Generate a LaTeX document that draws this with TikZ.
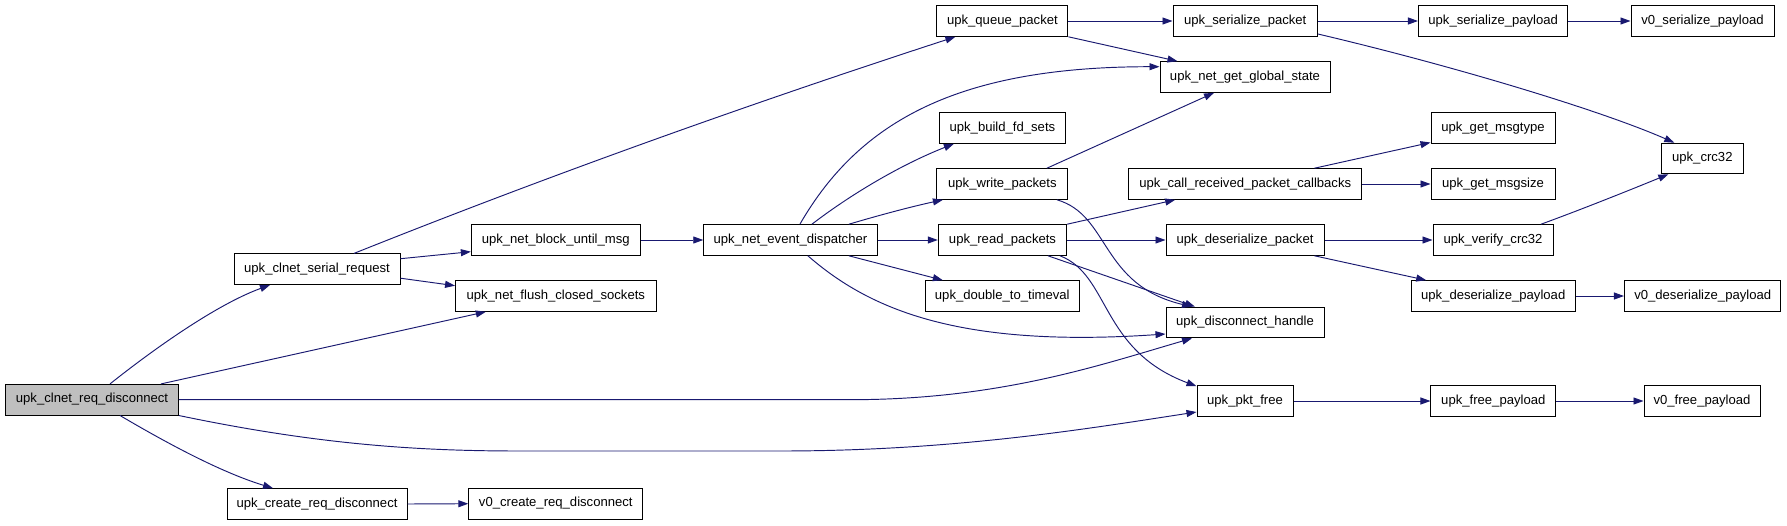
\documentclass[tikz,border=0pt]{standalone}
\usepackage{fontspec}
\setmainfont{Liberation Sans}
\usetikzlibrary{arrows.meta,calc}
\definecolor{edgeblue}{HTML}{191970}
\definecolor{rootgray}{HTML}{BFBFBF}
\tikzset{
  fn/.style={draw=black, line width=1pt, fill=white, minimum height=30.6pt,
    inner sep=0pt, font=\fontsize{13.1}{15}\selectfont, text height=9.4pt, text depth=2.9pt},
  ce/.style={draw=edgeblue, line width=0.95pt, -{Triangle[length=10pt,width=7pt]}},
}
\begin{document}
\begin{tikzpicture}[x=1pt,y=-1pt]
\useasboundingbox (0,0) rectangle (1787,525);
% nodes
\node[fn, fill=rootgray, minimum width=172.7pt] (root) at (92,399.7) {upk\_clnet\_req\_disconnect};
\node[fn, minimum width=166pt] (serial) at (317,269.2) {upk\_clnet\_serial\_request};
\node[fn, minimum width=180pt] (create) at (317,504) {upk\_create\_req\_disconnect};
\node[fn, minimum width=168.7pt] (block) at (555.7,240) {upk\_net\_block\_until\_msg};
\node[fn, minimum width=200.5pt] (flush) at (555.8,296) {upk\_net\_flush\_closed\_sockets};
\node[fn, minimum width=174pt] (v0c) at (555.8,503.7) {v0\_create\_req\_disconnect};
\node[fn, minimum width=173.3pt] (disp) at (790.4,240) {upk\_net\_event\_dispatcher};
\node[fn, minimum width=131pt] (queue) at (1002.4,21) {upk\_queue\_packet};
\node[fn, minimum width=126.7pt] (build) at (1002.4,128) {upk\_build\_fd\_sets};
\node[fn, minimum width=131pt] (write) at (1002.4,184) {upk\_write\_packets};
\node[fn, minimum width=128.4pt] (read) at (1002.5,240) {upk\_read\_packets};
\node[fn, minimum width=154.6pt] (dbl) at (1002.3,296) {upk\_double\_to\_timeval};
\node[fn, minimum width=144.4pt] (sp) at (1245.2,21) {upk\_serialize\_packet};
\node[fn, minimum width=170pt] (gs) at (1245,77) {upk\_net\_get\_global\_state};
\node[fn, minimum width=233.4pt] (crp) at (1245.2,184) {upk\_call\_received\_packet\_callbacks};
\node[fn, minimum width=158pt] (dsp) at (1245,240) {upk\_deserialize\_packet};
\node[fn, minimum width=158pt] (dh) at (1245,322.5) {upk\_disconnect\_handle};
\node[fn, minimum width=96pt] (pf) at (1245,401) {upk\_pkt\_free};
\node[fn, minimum width=149.5pt] (spay) at (1493.2,21) {upk\_serialize\_payload};
\node[fn, minimum width=124pt] (gmt) at (1493,128) {upk\_get\_msgtype};
\node[fn, minimum width=124pt] (gms) at (1493,184) {upk\_get\_msgsize};
\node[fn, minimum width=120pt] (vc) at (1493,240) {upk\_verify\_crc32};
\node[fn, minimum width=164.4pt] (dpay) at (1493.2,296) {upk\_deserialize\_payload};
\node[fn, minimum width=124.7pt] (fp) at (1493.3,401) {upk\_free\_payload};
\node[fn, minimum width=143pt] (v0sp) at (1702.5,21) {v0\_serialize\_payload};
\node[fn, minimum width=81.5pt] (crc) at (1702.3,158.5) {upk\_crc32};
\node[fn, minimum width=156.5pt] (v0dp) at (1702.7,296) {v0\_deserialize\_payload};
\node[fn, minimum width=116pt] (v0fp) at (1702,401) {v0\_free\_payload};
% edges
\draw[ce] ($(root.north)+(18,0)$) .. controls (150,352) and (215,305) .. ($(serial.south)+(-47,0)$);
\draw[ce] ($(root.north)+(69,0)$) -- ($(flush.south)+(-70,0)$);
\draw[ce] (root.east) -- (850,399.7) .. controls (1000,399.7) and (1100,365) .. ($(dh.south)+(-53,0)$);
\draw[ce] (root.south east) .. controls (320,445) and (420,451) .. (520,451) -- (780,451) .. controls (950,451) and (1080,430) .. ($(pf.west)+(0,11)$);
\draw[ce] ($(root.south)+(28,0)$) .. controls (165,442) and (220,472) .. ($(create.north)+(-44,0)$);
\draw[ce] ($(serial.north)+(37,0)$) .. controls (550,175) and (752,103) .. ($(queue.south)+(-47,0)$);
\draw[ce] ($(serial.east)+(0,-10.5)$) -- ($(block.west)+(0,11.7)$);
\draw[ce] ($(serial.east)+(0,9)$) -- ($(flush.west)+(0,-10.3)$);
\draw[ce] (block.east) -- (disp.west);
\draw[ce] (create.east) -- (v0c.west);
\draw[ce] ($(disp.north)+(9.5,0)$) .. controls (860,120) and (960,66.7) .. ($(gs.west)+(0,-10.3)$);
\draw[ce] ($(disp.north)+(21.5,0)$) .. controls (850,195) and (900,165) .. ($(build.south)+(-48.5,0)$);
\draw[ce] ($(disp.north)+(58.5,0)$) .. controls (880,215) and (910,207) .. ($(write.south)+(-59.5,0)$);
\draw[ce] (disp.east) -- (read.west);
\draw[ce] ($(disp.south)+(58.5,0)$) -- ($(dbl.north)+(-59.5,0)$);
\draw[ce] ($(disp.south)+(17.5,0)$) .. controls (870,310) and (960,348) .. ($(dh.west)+(0,11.5)$);
\draw[ce] (queue.east) -- (sp.west);
\draw[ce] (queue.south east) -- ($(gs.north)+(-67.5,0)$);
\draw[ce] ($(write.north)+(44.5,0)$) -- ($(gs.south)+(-31,0)$);
\draw[ce] ($(write.south)+(54.5,0)$) .. controls (1110,215) and (1100,285) .. ($(dh.north)+(-53,0)$);
\draw[ce] (read.north east) -- ($(crp.south)+(-70,0)$);
\draw[ce] (read.east) -- (dsp.west);
\draw[ce] ($(read.south)+(45.5,0)$) -- ($(dh.north)+(-50,0)$);
\draw[ce] ($(read.south)+(57.5,0)$) .. controls (1110,275) and (1100,350) .. ($(pf.north west)+(0,1)$);
\draw[ce] (sp.east) -- (spay.west);
\draw[ce] ($(sp.east)+(0,13)$) .. controls (1450,65) and (1600,110) .. ($(crc.north)+(-28,0)$);
\draw[ce] ($(crp.north)+(69.3,0)$) -- ($(gmt.south west)+(0,-1.3)$);
\draw[ce] (crp.east) -- (gms.west);
\draw[ce] (dsp.east) -- (vc.west);
\draw[ce] ($(dsp.south)+(69.5,0)$) -- ($(dpay.north)+(-67,0)$);
\draw[ce] ($(vc.north)+(48,0)$) .. controls (1580,210) and (1630,190) .. ($(crc.south)+(-34,0)$);
\draw[ce] (spay.east) -- (v0sp.west);
\draw[ce] (dpay.east) -- (v0dp.west);
\draw[ce] (pf.east) -- (fp.west);
\draw[ce] (fp.east) -- (v0fp.west);
\end{tikzpicture}
\end{document}
